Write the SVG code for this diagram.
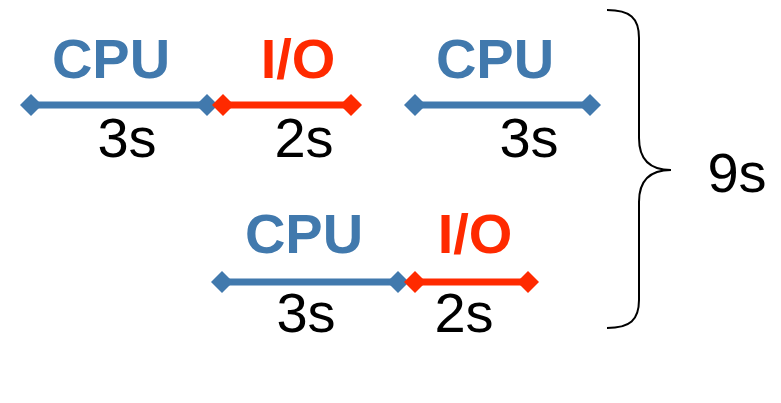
<svg xmlns="http://www.w3.org/2000/svg" width="781" height="403" viewBox="0 0 781 403">
  <defs>
    <marker id="dia-blue" markerUnits="userSpaceOnUse" markerWidth="24" markerHeight="24" refX="12" refY="12" orient="auto">
      <path d="M1,12 L12,1 L23,12 L12,23 Z" fill="#4179AD"/>
    </marker>
    <marker id="dia-red" markerUnits="userSpaceOnUse" markerWidth="24" markerHeight="24" refX="12" refY="12" orient="auto">
      <path d="M1,12 L12,1 L23,12 L12,23 Z" fill="#FF2A00"/>
    </marker>
  </defs>
  <style>
    .cpu { stroke: #4179AD; stroke-width: 7; marker-start: url(#dia-blue); marker-end: url(#dia-blue); }
    .io { stroke: #FF2A00; stroke-width: 7; marker-start: url(#dia-red); marker-end: url(#dia-red); }
    .lbl-cpu { font-family: "Liberation Sans", Arial, sans-serif; font-weight: bold; font-size: 56px; fill: #4179AD; }
    .lbl-io { font-family: "Liberation Sans", Arial, sans-serif; font-weight: bold; font-size: 56px; fill: #FF2A00; }
    .dur { font-family: "Liberation Sans", Arial, sans-serif; font-size: 56px; fill: #000; }
  </style>
  <rect width="781" height="403" fill="#fff"/>

  <!-- timeline segments -->
  <g id="connectors">
    <line class="cpu" x1="31" y1="105" x2="207" y2="105"/>
    <line class="io" x1="223" y1="105" x2="351" y2="105"/>
    <line class="cpu" x1="415" y1="105" x2="590" y2="105"/>
    <line class="cpu" x1="222" y1="282" x2="398" y2="282"/>
    <line class="io" x1="415" y1="282" x2="528" y2="282"/>
  </g>

  <!-- top row -->
  <g id="cpu1">
    <text class="lbl-cpu" x="111" y="78" text-anchor="middle">CPU</text>
    <text class="dur" x="127" y="157" text-anchor="middle">3s</text>
  </g>
  <g id="io1">
    <text class="lbl-io" x="298" y="78" text-anchor="middle">I/O</text>
    <text class="dur" x="304" y="157" text-anchor="middle">2s</text>
  </g>
  <g id="cpu2">
    <text class="lbl-cpu" x="495" y="78" text-anchor="middle">CPU</text>
    <text class="dur" x="529" y="157" text-anchor="middle">3s</text>
  </g>

  <!-- bottom row -->
  <g id="cpu3">
    <text class="lbl-cpu" x="304" y="253" text-anchor="middle">CPU</text>
    <text class="dur" x="306" y="332" text-anchor="middle">3s</text>
  </g>
  <g id="io2">
    <text class="lbl-io" x="475" y="253" text-anchor="middle">I/O</text>
    <text class="dur" x="464" y="332" text-anchor="middle">2s</text>
  </g>

  <!-- total brace -->
  <g id="total">
    <path d="M607,10 C630,10 639,18 639,38 L639,138 C639,160 650,170 671,170 C650,170 639,180 639,202 L639,300 C639,320 630,328 607,328" fill="none" stroke="#000" stroke-width="2"/>
    <text class="dur" x="737" y="192" text-anchor="middle">9s</text>
  </g>
</svg>
